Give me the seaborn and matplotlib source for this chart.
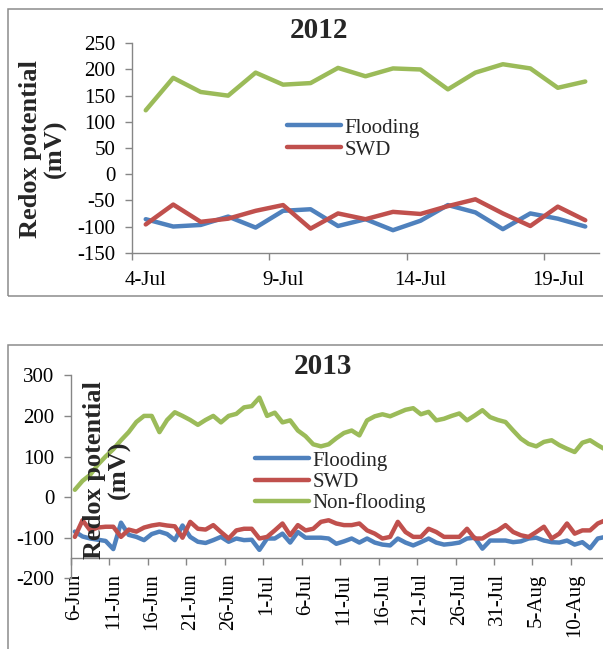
import numpy as np
import pandas as pd
import matplotlib
matplotlib.use("Agg")
import matplotlib.pyplot as plt
import seaborn as sns
from matplotlib.lines import Line2D
from matplotlib.patches import Rectangle

# ---- 2012: daily redox potential (mV), 4-Jul .. 20-Jul ----
flooding_2012 = [-86, -100, -97, -81, -102, -70, -67, -99, -86, -107,
                 -89, -59, -73, -105, -75, -85, -100]
swd_2012 = [-96, -58, -91, -85, -70, -59, -104, -75, -86, -72,
            -76, -61, -48, -75, -99, -62, -88]
nonflooding_2012 = [122, 184, 157, 150, 194, 171, 174, 203, 187, 202,
                    200, 162, 194, 210, 202, 165, 177]
xlabels_2012 = ["4-Jul", "9-Jul", "14-Jul", "19-Jul"]
yticks_2012 = [-150, -100, -50, 0, 50, 100, 150, 200, 250]

# ---- 2013: daily redox potential (mV), 6-Jun .. 14-Aug ----
flooding_2013 = [-85, -97, -102, -105, -108, -128, -63, -93, -98, -106,
                 -91, -85, -91, -106, -70, -98, -110, -113, -106, -98,
                 -110, -102, -106, -105, -130, -102, -102, -90, -112, -86,
                 -100, -100, -100, -102, -115, -109, -102, -112, -102, -112,
                 -117, -119, -102, -112, -119, -111, -102, -112, -117, -115,
                 -112, -102, -100, -127, -107, -107, -107, -111, -109, -102,
                 -100, -107, -111, -112, -107, -117, -111, -126, -102, -98]
swd_2013 = [-98, -57, -82, -75, -73, -73, -98, -80, -85, -75,
            -70, -67, -70, -72, -100, -61, -78, -80, -69, -86,
            -102, -82, -78, -78, -102, -98, -82, -65, -94, -69,
            -82, -78, -61, -57, -65, -69, -69, -65, -82, -90,
            -102, -98, -61, -86, -98, -98, -78, -86, -98, -98,
            -98, -78, -102, -102, -90, -82, -69, -86, -94, -98,
            -86, -73, -102, -90, -65, -90, -82, -82, -65, -57]
nonflooding_2013 = [18, 40, 55, 80, 100, 118, 140, 160, 185, 200,
                    200, 160, 190, 209, 200, 190, 178, 190, 200, 184,
                    200, 205, 221, 224, 245, 200, 208, 184, 189, 164,
                    150, 130, 125, 130, 145, 158, 164, 152, 189, 199,
                    204, 199, 207, 215, 219, 204, 210, 189, 193, 200,
                    206, 189, 201, 214, 197, 190, 185, 164, 144, 131,
                    125, 136, 140, 128, 119, 111, 134, 140, 128, 117]
xlabels_2013 = ["6-Jun", "11-Jun", "16-Jun", "21-Jun", "26-Jun", "1-Jul",
                "6-Jul", "11-Jul", "16-Jul", "21-Jul", "26-Jul", "31-Jul",
                "5-Aug", "10-Aug"]
yticks_2013 = [-200, -100, 0, 100, 200, 300]

series_names = ["Flooding", "SWD", "Non-flooding"]
palette = {"Flooding": "#4F81BD", "SWD": "#C0504D", "Non-flooding": "#9BBB59"}
axis_grey = "#868686"
frame_grey = "#8C8C8C"


def long_frame(flooding, swd, nonflooding):
    n = len(flooding)
    return pd.DataFrame({
        "day": np.tile(np.arange(n), 3),
        "redox": list(flooding) + list(swd) + list(nonflooding),
        "series": np.repeat(series_names, n),
    })


sns.set_theme(style="white")
plt.rcParams["font.family"] = ["Liberation Serif", "DejaVu Serif"]
plt.rcParams["axes.unicode_minus"] = False

W, H = 603, 649
fig = plt.figure(figsize=(W / 100, H / 100), dpi=100)
fig.patch.set_facecolor("white")


def fx(px):
    return px / W


def fy(py):
    return 1 - py / H


# chart frames
fig.add_artist(Rectangle((fx(7.5), fy(295.5)), fx(620) - fx(7.5), fy(8.5) - fy(295.5),
                         transform=fig.transFigure, fill=False,
                         edgecolor=frame_grey, linewidth=1.1))
fig.add_artist(Rectangle((fx(7.5), fy(700)), fx(620) - fx(7.5), fy(345) - fy(700),
                         transform=fig.transFigure, fill=False,
                         edgecolor=frame_grey, linewidth=1.1))

LW = 3.2
TICK_FS = 15


def style_axes(ax, yticks, ylim, xlabels, step, ncat, xright, bottom_at=None,
               rotate=False, xpad=9):
    for side in ("top", "right"):
        ax.spines[side].set_visible(False)
    for side in ("left", "bottom"):
        ax.spines[side].set_color(axis_grey)
        ax.spines[side].set_linewidth(1.0)
    if bottom_at is not None:
        ax.spines["bottom"].set_position(("data", bottom_at))
    ax.set_facecolor("none")
    ax.set_ylim(*ylim)
    ax.set_xlim(-0.5, xright)
    ax.set_yticks(yticks)
    ax.set_yticklabels([str(v) for v in yticks])
    # tick marks sit on category boundaries, labels on category centres
    centres = np.arange(0, ncat, step)[:len(xlabels)]
    ax.set_xticks(centres - 0.5)
    ax.set_xticklabels([""] * len(centres))
    ax.set_xticks(centres, minor=True)
    ax.set_xticklabels(xlabels, minor=True, rotation=90 if rotate else 0)
    ax.tick_params(axis="both", which="major", direction="out", length=5,
                   width=1.0, color=axis_grey, labelsize=TICK_FS,
                   labelcolor="black")
    ax.tick_params(axis="y", which="major", pad=7, left=True)
    ax.tick_params(axis="x", which="minor", length=0, pad=xpad,
                   labelsize=TICK_FS, labelcolor="black", bottom=True)
    ax.tick_params(axis="x", which="major", bottom=True)
    ax.set_xlabel("")
    ax.set_ylabel("")
    ax.grid(False)


def draw_lines(ax, frame):
    sns.lineplot(data=frame, x="day", y="redox", hue="series",
                 hue_order=series_names, palette=palette, linewidth=LW,
                 legend=False, ax=ax, solid_joinstyle="round",
                 solid_capstyle="round", clip_on=True)


# ---------- 2012 panel ----------
ax1 = fig.add_axes([fx(132), fy(252.7), fx(599) - fx(132), fy(43.3) - fy(252.7)])
draw_lines(ax1, long_frame(flooding_2012, swd_2012, nonflooding_2012))
style_axes(ax1, yticks_2012, (-150, 250), xlabels_2012, 5, len(flooding_2012),
           len(flooding_2012) - 0.5, xpad=13)

fig.text(fx(319), fy(30), "2012", ha="center", va="center",
         fontsize=21, fontweight="bold")
fig.text(fx(43), fy(149), "Redox potential\n(mV)", rotation=90,
         ha="center", va="center", multialignment="center",
         fontsize=19, fontweight="bold", linespacing=1.05)

handles_2012 = [Line2D([], [], color=palette[s], linewidth=LW,
                       solid_capstyle="round") for s in series_names[:2]]
ax1.legend(handles_2012, series_names[:2], loc="upper left",
           bbox_to_anchor=(fx(287), fy(118)), bbox_transform=fig.transFigure,
           frameon=False, fontsize=TICK_FS, handlelength=2.6,
           handletextpad=0.15, labelspacing=0.12, borderpad=0,
           borderaxespad=0)

# ---------- 2013 panel ----------
day_px = 7.69
xright_2013 = -0.5 + (603 - 71) / day_px
ax2 = fig.add_axes([fx(71), fy(578.3), fx(603) - fx(71), fy(375.3) - fy(578.3)])
draw_lines(ax2, long_frame(flooding_2013, swd_2013, nonflooding_2013))
style_axes(ax2, yticks_2013, (-200, 300), xlabels_2013, 5, len(flooding_2013),
           xright_2013, bottom_at=-150, rotate=True, xpad=11)

fig.text(fx(323), fy(367), "2013", ha="center", va="center",
         fontsize=21, fontweight="bold")
fig.text(fx(107), fy(470), "Redox potential\n(mV)", rotation=90,
         ha="center", va="center", multialignment="center",
         fontsize=19, fontweight="bold", linespacing=1.05, zorder=10)

handles_2013 = [Line2D([], [], color=palette[s], linewidth=LW,
                       solid_capstyle="round") for s in series_names]
ax2.legend(handles_2013, series_names, loc="upper left",
           bbox_to_anchor=(fx(255), fy(451)), bbox_transform=fig.transFigure,
           frameon=False, fontsize=TICK_FS, handlelength=2.6,
           handletextpad=0.15, labelspacing=0.08, borderpad=0,
           borderaxespad=0)

fig.savefig("out.png", dpi=100, facecolor="white")
